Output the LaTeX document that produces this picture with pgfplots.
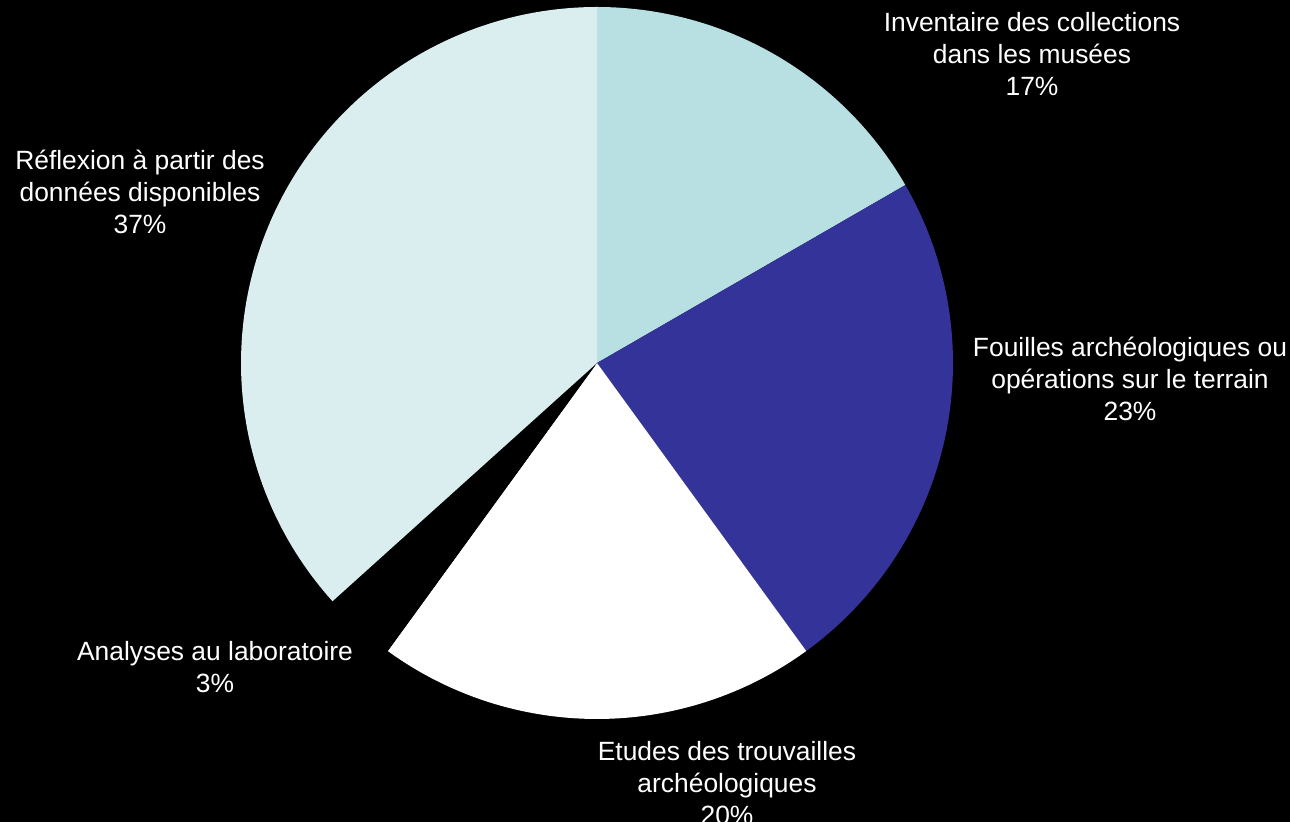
\documentclass[border=0pt]{standalone}
\usepackage{pgfplots}
\pgfplotsset{compat=1.18}
\usepackage{fontspec}
\setmainfont{Liberation Sans}
\definecolor{sliceA}{HTML}{B8DFE1}
\definecolor{sliceB}{HTML}{333399}
\definecolor{sliceC}{HTML}{FFFFFF}
\definecolor{sliceD}{HTML}{000000}
\definecolor{sliceE}{HTML}{DAEDEF}
% shares in percent, clockwise from the top
\def\pA{16.67}\def\pB{23.33}\def\pC{20}\def\pD{3.33}\def\pE{36.67}
\begin{document}
\begin{tikzpicture}
\fill[black] (0,0) rectangle (645pt,411pt);
\begin{axis}[at={(0,0)}, anchor=south west, scale only axis,
  width=645pt, height=411pt, xmin=0, xmax=1290, ymin=-822, ymax=0,
  hide axis, clip=false]
\addplot[fill=sliceA, draw=none, domain={90-3.6*\pA}:90, samples=80]
  ({597+356*cos(x)},{-363+356*sin(x)}) -- (axis cs:597,-363) -- cycle;
\addplot[fill=sliceB, draw=none, domain={90-3.6*(\pA+\pB)}:{90-3.6*\pA}, samples=80]
  ({597+356*cos(x)},{-363+356*sin(x)}) -- (axis cs:597,-363) -- cycle;
\addplot[fill=sliceC, draw=none, domain={90-3.6*(\pA+\pB+\pC)}:{90-3.6*(\pA+\pB)}, samples=80]
  ({597+356*cos(x)},{-363+356*sin(x)}) -- (axis cs:597,-363) -- cycle;
\addplot[fill=sliceD, draw=none, domain={90-3.6*(\pA+\pB+\pC+\pD)}:{90-3.6*(\pA+\pB+\pC)}, samples=30]
  ({597+356*cos(x)},{-363+356*sin(x)}) -- (axis cs:597,-363) -- cycle;
\addplot[fill=sliceE, draw=none, domain={90-3.6*(\pA+\pB+\pC+\pD+\pE)}:{90-3.6*(\pA+\pB+\pC+\pD)}, samples=120]
  ({597+356*cos(x)},{-363+356*sin(x)}) -- (axis cs:597,-363) -- cycle;
\tikzset{lab/.style={text=white, align=center, inner sep=0pt,
  font=\fontsize{13.2}{16}\selectfont}}
\node[lab] at (axis cs:1032,-54) {Inventaire des collections\\dans les musées\\17\%};
\node[lab] at (axis cs:1130,-379) {Fouilles archéologiques ou\\opérations sur le terrain\\23\%};
\node[lab] at (axis cs:727,-783) {Etudes des trouvailles\\archéologiques\\20\%};
\node[lab] at (axis cs:215,-667) {Analyses au laboratoire\\3\%};
\node[lab] at (axis cs:140,-192) {Réflexion à partir des\\données disponibles\\37\%};
\end{axis}
\pgfresetboundingbox
\useasboundingbox (0,0) rectangle (645pt,411pt);
\end{tikzpicture}
\end{document}
